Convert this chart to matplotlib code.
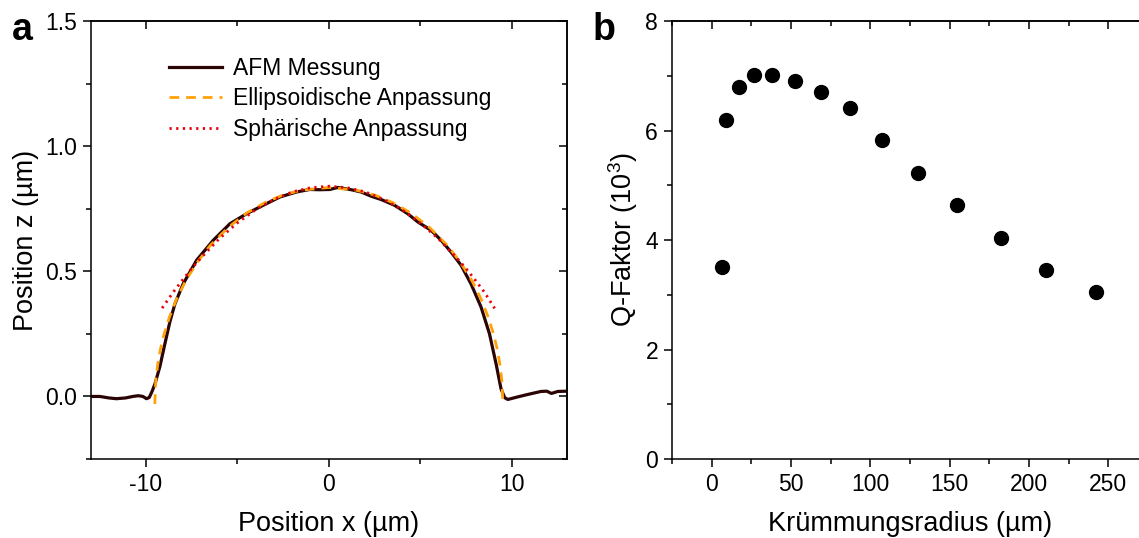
import matplotlib
matplotlib.use("Agg")
import matplotlib.pyplot as plt
from matplotlib.ticker import MultipleLocator

plt.rcParams['font.family'] = ['Liberation Sans', 'DejaVu Sans']
plt.rcParams['mathtext.fontset'] = 'custom'
plt.rcParams['mathtext.rm'] = 'Liberation Sans'
plt.rcParams['mathtext.it'] = 'Liberation Sans'
plt.rcParams['mathtext.bf'] = 'Liberation Sans:bold'

# Panel a: AFM profile and fits
afm_x = [-13.0, -12.5, -12.0, -11.6, -11.1, -10.7, -10.4, -10.15, -9.95, -9.8, -9.65,
         -9.49, -9.22, -8.95, -8.67, -8.40, -7.95, -7.22, -6.31, -5.40, -4.49,
         -3.58, -2.67, -1.76, -1.04, -0.5, 0.05, 0.49, 1.22, 1.76, 2.31, 2.85,
         3.58, 4.31, 4.86, 5.58, 6.13, 6.67, 7.22, 7.76, 8.31, 8.77, 9.13, 9.40,
         9.6, 9.77, 10.3, 10.86, 11.58, 11.9, 12.15, 12.5, 13.0]
afm_z = [0.0, 0.0, -0.006, -0.009, -0.006, 0.0, 0.003, 0.0, -0.009, -0.004, 0.02,
         0.05, 0.12, 0.21, 0.30, 0.37, 0.45, 0.544, 0.624, 0.69, 0.73,
         0.764, 0.797, 0.817, 0.827, 0.826, 0.827, 0.835, 0.826, 0.817, 0.80, 0.787,
         0.764, 0.73, 0.697, 0.664, 0.624, 0.577, 0.524, 0.45, 0.357, 0.25, 0.13, 0.03,
         -0.005, -0.012, -0.002, 0.008, 0.02, 0.021, 0.012, 0.02, 0.021]

ell_x = [-9.5, -9.45, -9.35, -9.2, -9.0, -8.7, -8.3, -7.8, -7.2, -6.5, -5.5, -4.5,
         -3.5, -2.5, -1.5, 0.0, 1.5, 2.5, 3.5, 4.5, 5.5, 6.5, 7.2, 7.8, 8.3, 8.7,
         9.0, 9.2, 9.35, 9.45, 9.5]
ell_z = [-0.03, 0.059, 0.123, 0.186, 0.247, 0.317, 0.391, 0.464, 0.534, 0.601,
         0.675, 0.732, 0.774, 0.805, 0.824, 0.835, 0.824, 0.805, 0.774, 0.732,
         0.675, 0.601, 0.534, 0.464, 0.391, 0.317, 0.247, 0.186, 0.123, 0.059, -0.03]

sph_x = [-9.1, -8.5, -8.0, -7.5, -7.0, -6.0, -5.0, -4.0, -3.0, -2.0, -1.0, 0.0,
         1.0, 2.0, 3.0, 4.0, 5.0, 6.0, 7.0, 7.5, 8.0, 8.5, 9.05]
sph_z = [0.353, 0.416, 0.464, 0.510, 0.552, 0.629, 0.693, 0.746, 0.787, 0.817,
         0.834, 0.840, 0.834, 0.817, 0.787, 0.746, 0.693, 0.629, 0.552, 0.510,
         0.464, 0.416, 0.352]

# Panel b: Q factor vs radius of curvature
radius = [6.3, 9.3, 17.0, 26.4, 38.2, 52.4, 68.9, 87.3, 107.4, 130.0, 154.8, 182.0, 210.9, 242.1]
q_factor = [3.50, 6.19, 6.79, 7.02, 7.01, 6.90, 6.71, 6.42, 5.83, 5.22, 4.64, 4.04, 3.45, 3.05]

fig = plt.figure(figsize=(11.39, 5.38), dpi=100)


def style_axes(ax, xmaj, xmin, ymaj, ymin):
    ax.xaxis.set_major_locator(MultipleLocator(xmaj))
    ax.xaxis.set_minor_locator(MultipleLocator(xmin))
    ax.yaxis.set_major_locator(MultipleLocator(ymaj))
    ax.yaxis.set_minor_locator(MultipleLocator(ymin))
    ax.tick_params(which='major', direction='out', length=6, width=1.1, labelsize=16.5, pad=4)
    ax.tick_params(which='minor', direction='out', length=3.5, width=1.1)
    for s in ax.spines.values():
        s.set_linewidth(1.1)
    top = ax.secondary_xaxis('top')
    top.xaxis.set_major_locator(MultipleLocator(xmaj))
    top.xaxis.set_minor_locator(MultipleLocator(xmin))
    top.tick_params(which='major', direction='in', length=6, width=1.1, labeltop=False)
    top.tick_params(which='minor', direction='in', length=3.5, width=1.1)
    top.spines['top'].set_linewidth(1.1)
    right = ax.secondary_yaxis('right')
    right.yaxis.set_major_locator(MultipleLocator(ymaj))
    right.yaxis.set_minor_locator(MultipleLocator(ymin))
    right.tick_params(which='major', direction='in', length=6, width=1.1, labelright=False)
    right.tick_params(which='minor', direction='in', length=3.5, width=1.1)
    right.spines['right'].set_linewidth(1.1)


# panel a
ax1 = fig.add_axes([0.0796, 0.1468, 0.4182, 0.8141])
ax1.plot(afm_x, afm_z, color='#2b0505', lw=2.3, label='AFM Messung', zorder=2)
ax1.plot(ell_x, ell_z, color='#ffa20a', lw=2.0, ls=(0, (3.5, 2.5)),
         label='Ellipsoidische Anpassung', zorder=3)
ax1.plot(sph_x, sph_z, color='#e8000b', lw=2.0, ls=(0, (0.8, 1.6)),
         label='Sphärische Anpassung', zorder=4)
ax1.set_xlim(-13, 13)
ax1.set_ylim(-0.25, 1.5)
style_axes(ax1, 10, 5, 0.5, 0.25)
ax1.set_xticks([-10, 0, 10], ['-10', '0', '10'])
ax1.set_xlabel('Position x (µm)', fontsize=19.5, labelpad=11)
ax1.set_ylabel('Position z (µm)', fontsize=19.5, labelpad=4)
ax1.legend(loc='upper left', bbox_to_anchor=(0.14, 0.945), frameon=False, fontsize=16.5,
           handlelength=2.3, handletextpad=0.5, labelspacing=0.33, borderpad=0)

# panel b
ax2 = fig.add_axes([0.5900, 0.1468, 0.4180, 0.8141])
ax2.plot(radius, q_factor, 'o', color='black', markersize=10)
ax2.set_xlim(-25, 275)
ax2.set_ylim(0, 8)
style_axes(ax2, 50, 25, 2, 1)
ax2.set_xlabel('Krümmungsradius (µm)', fontsize=19.5, labelpad=11)
ax2.set_ylabel(r'Q-Faktor (10$^{\mathregular{3}}$)', fontsize=19.5, labelpad=4)

fig.text(0.010, 0.925, 'a', fontsize=27, fontweight='bold')
fig.text(0.520, 0.925, 'b', fontsize=27, fontweight='bold')

fig.savefig('out.png', dpi=100)
